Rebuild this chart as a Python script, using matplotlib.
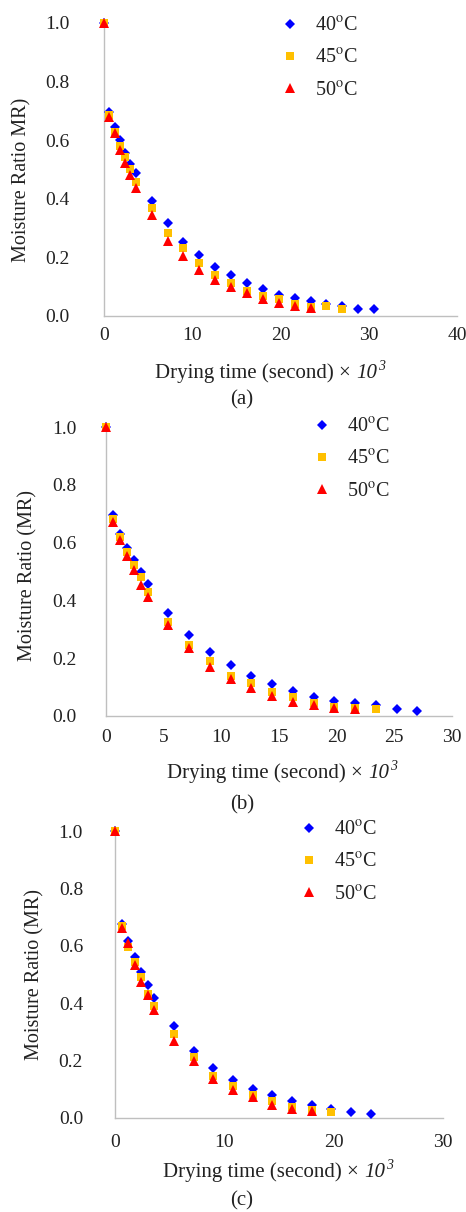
import matplotlib
matplotlib.use("Agg")
import matplotlib.pyplot as plt

plt.rcParams['font.family'] = ['Liberation Serif', 'DejaVu Serif']
plt.rcParams['mathtext.fontset'] = 'stix'

# ---------------- data (time in 10^3 s, moisture ratio) ----------------
time_all = [0, 0.6, 1.2, 1.8, 2.4, 3.0, 3.6, 5.4, 7.2, 9.0, 10.8, 12.6, 14.4,
            16.2, 18.0, 19.8, 21.6, 23.4, 25.2, 27.0, 28.8, 30.6]

# panel (a)
a_40 = [1.0, 0.697, 0.646, 0.600, 0.556, 0.519, 0.487, 0.394, 0.316, 0.254, 0.208,
        0.168, 0.140, 0.112, 0.091, 0.072, 0.060, 0.051, 0.041, 0.034, 0.025, 0.023]
a_45 = [1.0, 0.686, 0.629, 0.581, 0.544, 0.500, 0.458, 0.367, 0.282, 0.231, 0.180,
        0.140, 0.112, 0.086, 0.068, 0.058, 0.041, 0.032, 0.035, 0.023]
a_50 = [1.0, 0.678, 0.624, 0.567, 0.523, 0.481, 0.438, 0.345, 0.256, 0.205, 0.157,
        0.123, 0.098, 0.077, 0.058, 0.045, 0.034, 0.026]

# panel (b)
b_40 = [1.0, 0.695, 0.631, 0.582, 0.539, 0.499, 0.457, 0.358, 0.280, 0.222, 0.176,
        0.139, 0.109, 0.087, 0.067, 0.052, 0.044, 0.037, 0.024, 0.017]
b_45 = [1.0, 0.683, 0.620, 0.568, 0.522, 0.482, 0.428, 0.326, 0.245, 0.190, 0.139,
        0.113, 0.084, 0.067, 0.046, 0.032, 0.026, 0.023]
b_50 = [1.0, 0.672, 0.608, 0.553, 0.505, 0.453, 0.412, 0.315, 0.236, 0.168, 0.129,
        0.096, 0.070, 0.047, 0.038, 0.027, 0.023]

# panel (c)
c_40 = [1.0, 0.675, 0.615, 0.560, 0.510, 0.464, 0.418, 0.319, 0.235, 0.174, 0.133,
        0.101, 0.079, 0.058, 0.044, 0.032, 0.021, 0.014]
c_45 = [1.0, 0.669, 0.597, 0.545, 0.493, 0.431, 0.389, 0.292, 0.211, 0.147, 0.110,
        0.081, 0.058, 0.040, 0.029, 0.020]
c_50 = [1.0, 0.661, 0.609, 0.534, 0.475, 0.427, 0.375, 0.267, 0.200, 0.137, 0.096,
        0.073, 0.046, 0.031, 0.023]

labels = [r'40$^{\mathrm{o}}$C', r'45$^{\mathrm{o}}$C', r'50$^{\mathrm{o}}$C']
colors = ['#0000FF', '#FFC000', '#FF0000']
markers = ['D', 's', '^']
msizes = [4.6, 5.8, 7.0]
y_ticks = [0.0, 0.2, 0.4, 0.6, 0.8, 1.0]

W, H = 466, 1212
fig = plt.figure(figsize=(W / 100, H / 100), dpi=100)
TXT = '#222222'


def px_axes(left, right, top, bottom):
    return fig.add_axes([left / W, 1 - bottom / H, (right - left) / W, (bottom - top) / H])


panels = [
    dict(box=(104, 457, 23, 316), xlim=40, xticks=[0, 10, 20, 30, 40],
         series=[a_40, a_45, a_50], ypad=24.5, xpad=8,
         ylabel='Moisture Ratio MR)', ylab_xy=(22, 180),
         xlab_xy=(155, 373), cap='(a)', cap_y=400, leg=(280, 17)),
    dict(box=(106, 452, 427, 716), xlim=30, xticks=[0, 5, 10, 15, 20, 25, 30],
         series=[b_40, b_45, b_50], ypad=21, xpad=9.5,
         ylabel='Moisture Ratio (MR)', ylab_xy=(28, 575),
         xlab_xy=(167, 773), cap='(b)', cap_y=805, leg=(312, 418)),
    dict(box=(115, 443, 831, 1118), xlim=30, xticks=[0, 10, 20, 30],
         series=[c_40, c_45, c_50], ypad=23, xpad=11.5,
         ylabel='Moisture Ratio (MR)', ylab_xy=(35, 975),
         xlab_xy=(163, 1172), cap='(c)', cap_y=1201, leg=(299, 821)),
]

for p in panels:
    ax = px_axes(*p['box'])
    for vals, lab, col, mk, ms in zip(p['series'], labels, colors, markers, msizes):
        ax.plot(time_all[:len(vals)], vals, linestyle='none', marker=mk, ms=ms,
                color=col, markeredgewidth=0, label=lab, clip_on=False, zorder=3)
    ax.set_xlim(0, p['xlim'])
    ax.set_ylim(0, 1.0)
    ax.set_xticks(p['xticks'])
    ax.set_xticklabels([str(t) for t in p['xticks']])
    ax.set_yticks(y_ticks)
    ax.set_yticklabels(['%.1f' % t for t in y_ticks])
    for s in ['top', 'right']:
        ax.spines[s].set_visible(False)
    for s in ['left', 'bottom']:
        ax.spines[s].set_color('#BFBFBF')
        ax.spines[s].set_linewidth(1.0)
    ax.tick_params(axis='y', length=0, pad=p['ypad'], labelsize=14, colors=TXT)
    ax.tick_params(axis='x', length=0, pad=p['xpad'], labelsize=14, colors=TXT)
    ax.patch.set_alpha(0)

    fig.text(p['ylab_xy'][0] / W, 1 - p['ylab_xy'][1] / H, p['ylabel'], rotation=90,
             ha='center', va='center', fontsize=14.5, color=TXT)

    # x label: regular part, italic 10, italic superscript 3
    t1 = fig.text(p['xlab_xy'][0] / W, 1 - p['xlab_xy'][1] / H,
                  'Drying time (second) \u00d7 ', ha='left', va='center',
                  fontsize=15, color=TXT)
    t2 = ax.annotate('10', xy=(1, 0), xycoords=t1, ha='left', va='bottom',
                     fontsize=15, fontstyle='italic', color=TXT, annotation_clip=False)
    ax.annotate('3', xy=(1, 1), xycoords=t2, xytext=(0.5, 2.5), textcoords='offset points',
                ha='left', va='top', fontsize=10, fontstyle='italic', color=TXT,
                annotation_clip=False)

    fig.text(242 / W, 1 - p['cap_y'] / H, p['cap'], ha='center', va='center',
             fontsize=15, color=TXT)

    lx, ly = p['leg']
    ax.legend(loc='upper left', bbox_to_anchor=(lx / W, 1 - ly / H),
              bbox_transform=fig.transFigure, frameon=False, fontsize=14.5,
              handlelength=1.0, handletextpad=0.75, labelspacing=0.65,
              borderpad=0, borderaxespad=0, numpoints=1, labelcolor=TXT)

fig.savefig('out.png', dpi=100)
